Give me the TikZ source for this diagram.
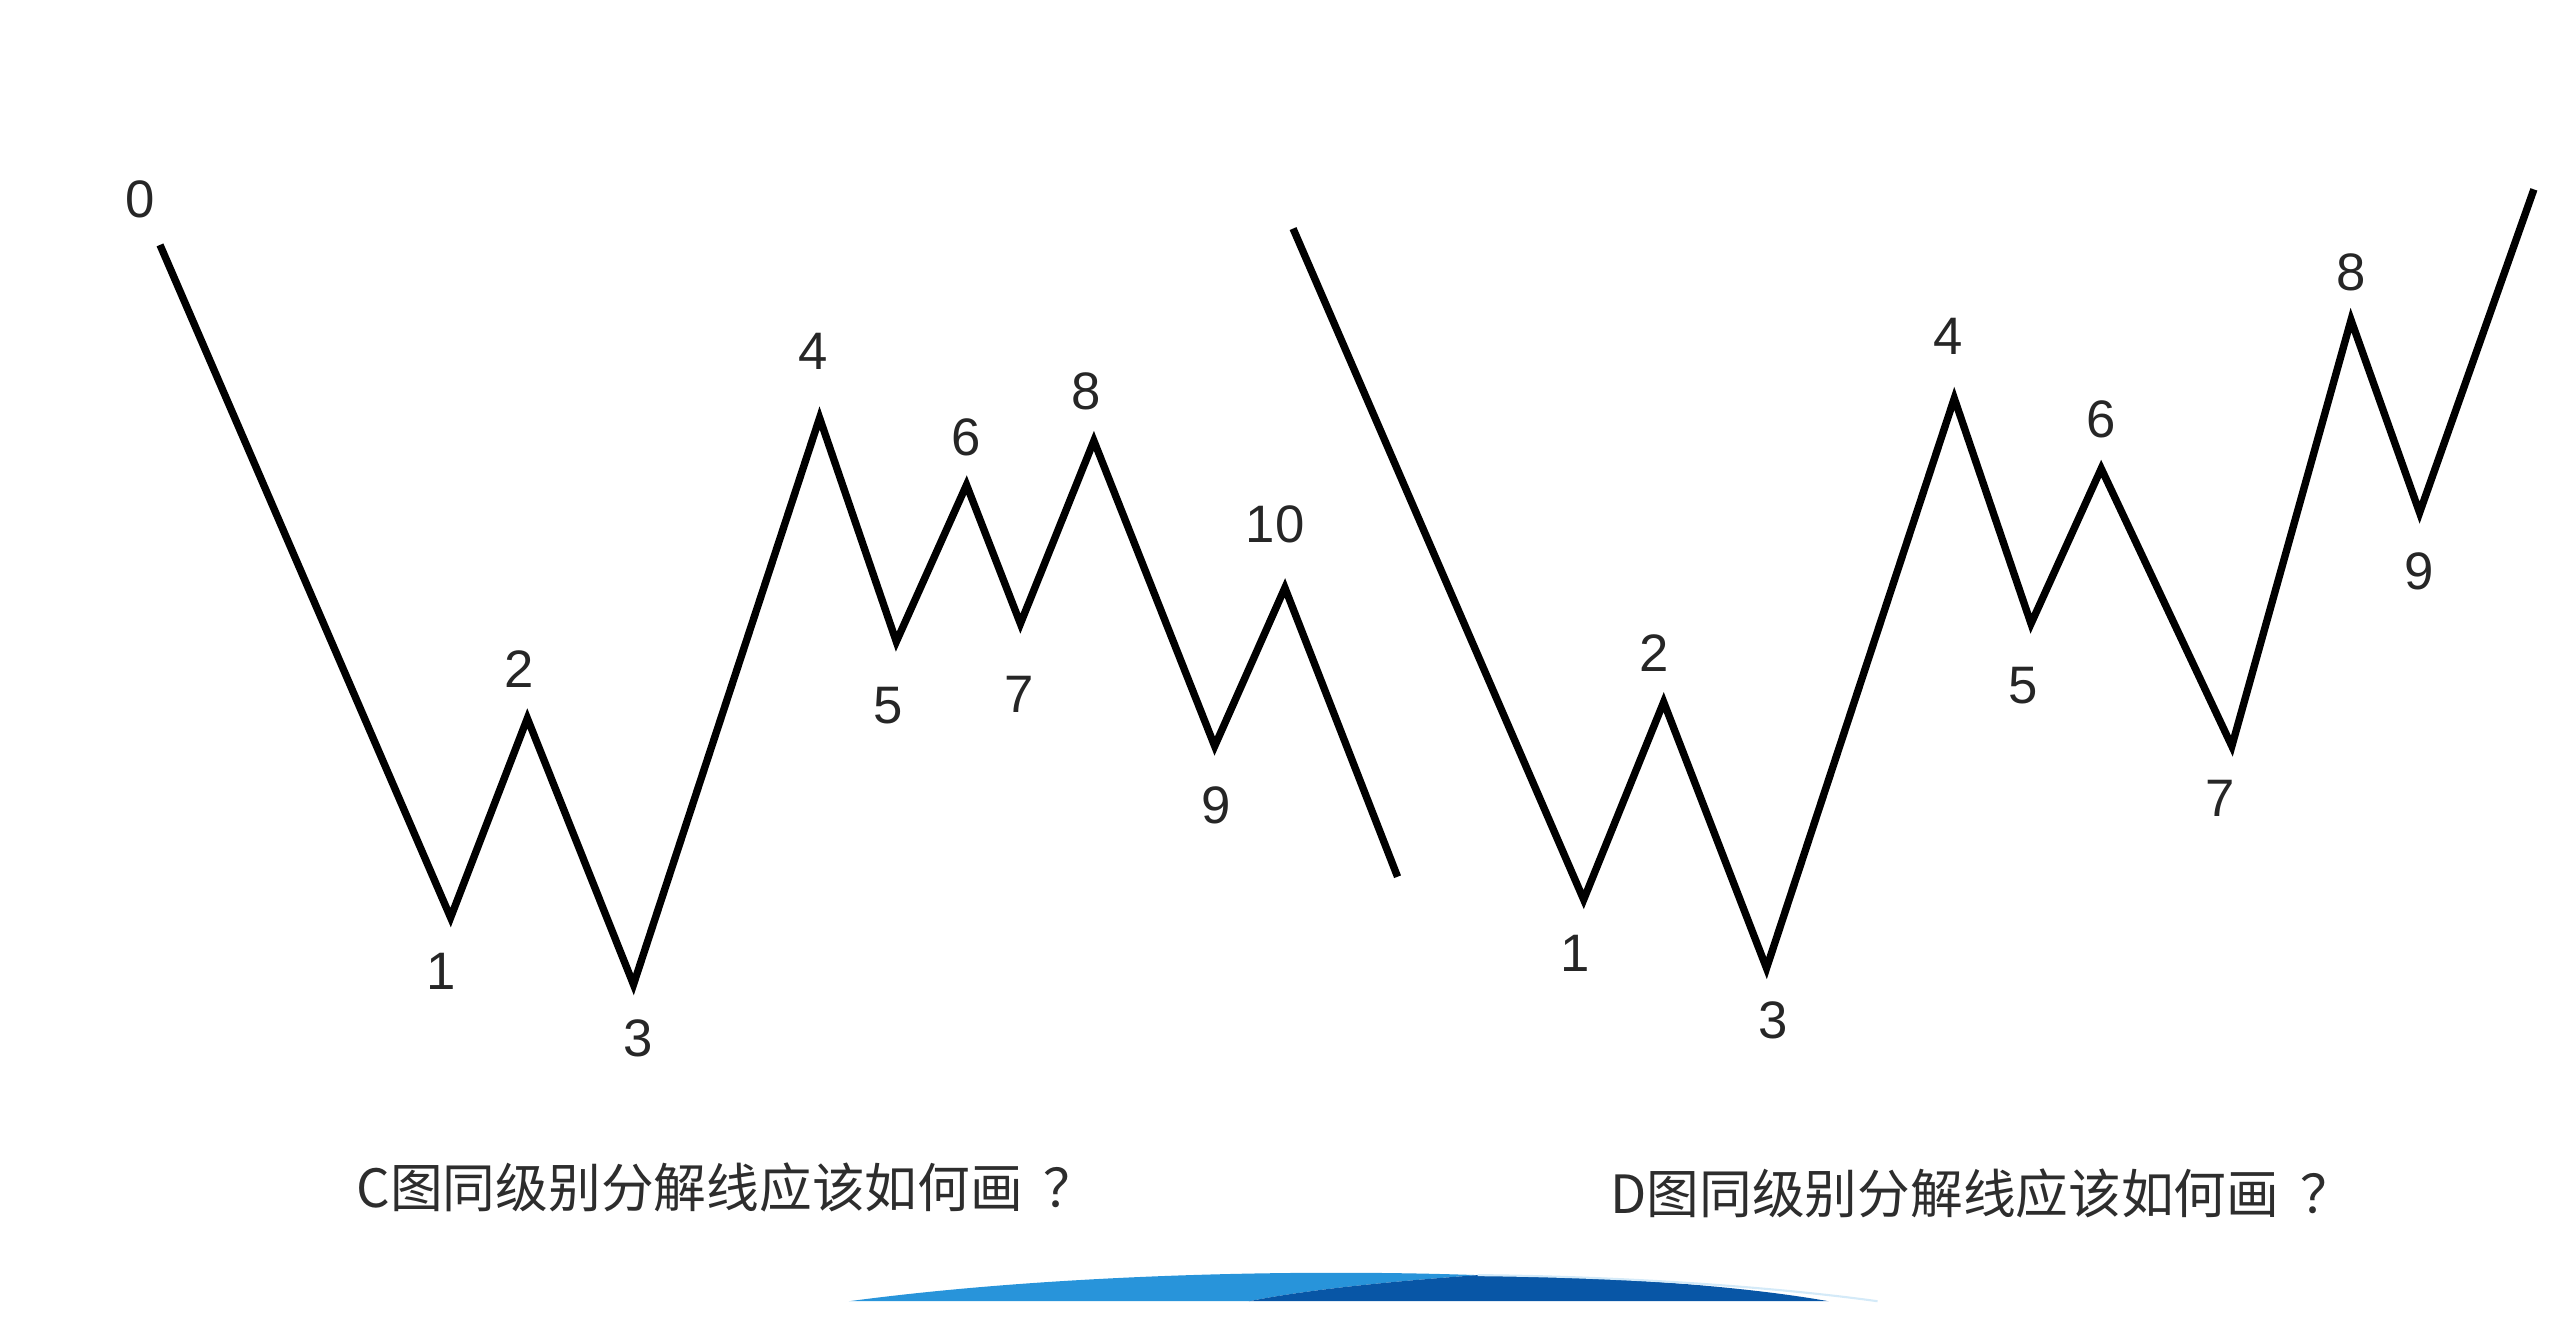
\documentclass[tikz,border=0pt]{standalone}
\usepackage{fontspec}
\setmainfont{Liberation Sans}
\newfontfamily\cjkfont{Noto Sans CJK SC}
\usepackage{xcolor}
\usetikzlibrary{positioning}

\definecolor{swlight}{RGB}{40,148,218}
\definecolor{swdark}{RGB}{8,86,166}
\definecolor{captext}{RGB}{45,45,45}

\begin{document}
\begin{tikzpicture}[
  x=0.016327cm, y=-0.016327cm,
  wave/.style={line width=2.1pt, line join=miter, black},
  lbl/.style={inner sep=0pt, text=black!85, font=\fontsize{15}{15}\selectfont},
  captxt/.style={inner sep=0pt, anchor=west, text=captext, font=\cjkfont\fontsize{15}{15}\selectfont}]
\useasboundingbox (0,0) rectangle (1568,823);

% C wave
\coordinate (c0) at (98,150);
\coordinate (c1) at (276,562);
\coordinate (c2) at (323,440);
\coordinate (c3) at (388,603);
\coordinate (c4) at (502,256);
\coordinate (c5) at (549,393);
\coordinate (c6) at (592,297);
\coordinate (c7) at (625,382);
\coordinate (c8) at (670,270);
\coordinate (c9) at (744,457);
\coordinate (c10) at (787,360);
\coordinate (cend) at (856,537);
\draw[wave] (c0) -- (c1) -- (c2) -- (c3) -- (c4) -- (c5) -- (c6) -- (c7)
  -- (c8) -- (c9) -- (c10) -- (cend);

\node[lbl] (lc0) at (86,122) {0};
\node[lbl] (lc1) at (270,595) {1};
\node[lbl] (lc2) at (318,410) {2};
\node[lbl] (lc3) at (391,636) {3};
\node[lbl] (lc4) at (498,215) {4};
\node[lbl] (lc5) at (544,432) {5};
\node[lbl] (lc6) at (592,268) {6};
\node[lbl] (lc7) at (624,425) {7};
\node[lbl] (lc8) at (665,240) {8};
\node[lbl] (lc9) at (745,493) {9};
\node[lbl] (lc10) at (781,321) {10};

% D wave
\coordinate (d0) at (792,140);
\coordinate (d1) at (970,551);
\coordinate (d2) at (1019,430);
\coordinate (d3) at (1082,593);
\coordinate (d4) at (1197,244);
\coordinate (d5) at (1244,382);
\coordinate (d6) at (1287,287);
\coordinate (d7) at (1367,457);
\coordinate (d8) at (1440,196);
\coordinate (d9) at (1482,314);
\coordinate (dend) at (1552,116);
\draw[wave] (d0) -- (d1) -- (d2) -- (d3) -- (d4) -- (d5) -- (d6) -- (d7)
  -- (d8) -- (d9) -- (dend);

\node[lbl] (ld1) at (965,584) {1};
\node[lbl] (ld2) at (1013,400) {2};
\node[lbl] (ld3) at (1086,625) {3};
\node[lbl] (ld4) at (1193,206) {4};
\node[lbl] (ld5) at (1239,420) {5};
\node[lbl] (ld6) at (1287,257) {6};
\node[lbl] (ld7) at (1360,489) {7};
\node[lbl] (ld8) at (1440,167) {8};
\node[lbl] (ld9) at (1482,350) {9};

% captions
\node[captxt] (capc) at (218,727) {C图同级别分解线应该如何画\hspace{0.4em}？};
\node[captxt] (capd) at (986,731) {D图同级别分解线应该如何画\hspace{0.4em}？};

% blue swoosh
\fill[swlight] (520,797) .. controls (640,781) and (790,777) .. (905,781)
  .. controls (850,785) and (800,790) .. (765,797) -- cycle;
\fill[swdark] (765,797) .. controls (800,790) and (850,785) .. (905,781)
  .. controls (1000,782) and (1075,789) .. (1120,797) -- cycle;
\draw[white!80!swlight, line width=0.6pt] (905,781) .. controls (1010,782) and (1100,790) .. (1150,797);
\end{tikzpicture}
\end{document}
